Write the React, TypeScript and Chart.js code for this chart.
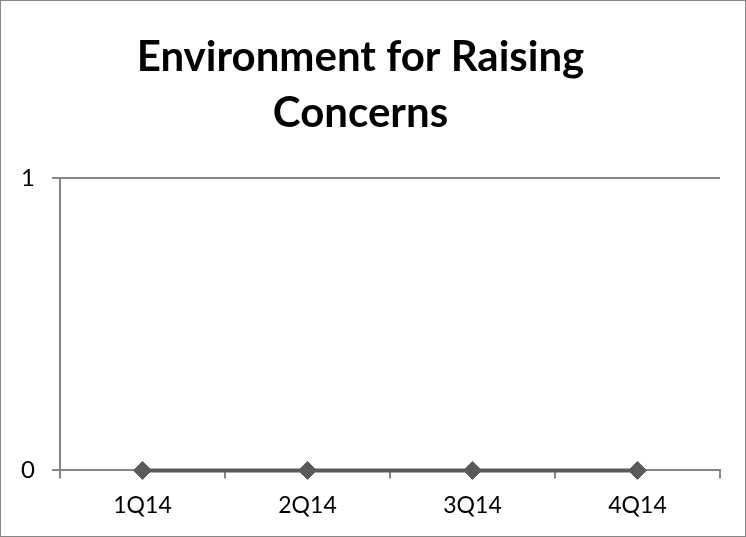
import React, { useEffect, useRef } from "react";
import { Chart, registerables } from "chart.js";

Chart.register(...registerables);

const categories = ["1Q14", "2Q14", "3Q14", "4Q14"];
const seriesValues = [0, 0, 0, 0];
const titleLines = ["Environment for Raising", "Concerns"];
const yTickValues = [0, 1];

export default function App() {
  const ref = useRef<HTMLCanvasElement | null>(null);
  useEffect(() => {
    document.body.style.margin = "0";
    const ctx = ref.current!;
    const chart = new Chart(ctx, {
      type: "line",
      data: {
        labels: categories,
        datasets: [
          {
            data: seriesValues,
            borderColor: "#5a5a5a",
            backgroundColor: "#5a5a5a",
            borderWidth: 4,
            pointStyle: "rectRot",
            pointRadius: 9,
            pointBorderWidth: 1,
            pointBackgroundColor: "#5a5a5a",
            pointBorderColor: "#5a5a5a",
            clip: false as any,
          },
        ],
      },
      options: {
        animation: false,
        responsive: false,
        devicePixelRatio: 1,
        layout: { padding: { left: 0, right: 25, top: 0, bottom: 4 } },
        plugins: {
          legend: { display: false },
          tooltip: { enabled: false },
          title: {
            display: true,
            text: titleLines,
            color: "#000000",
            font: { family: "Lato, 'Open Sans', sans-serif", size: 42, weight: "bold", lineHeight: 1.333 },
            padding: { top: 28, bottom: 37 },
          },
        },
        scales: {
          x: {
            type: "category",
            offset: true,
            border: { display: true, color: "#868686", width: 2 },
            grid: {
              offset: true,
              drawOnChartArea: false,
              drawTicks: true,
              tickLength: 8,
              color: "#868686",
              lineWidth: 2,
            },
            ticks: {
              color: "#000000",
              font: { family: "Lato, 'Open Sans', sans-serif", size: 23 },
              padding: 13,
              maxRotation: 0,
            },
          },
          y: {
            min: 0,
            max: 1,
            afterFit: (s: any) => {
              s.width = 59;
            },
            afterBuildTicks: (s: any) => {
              s.ticks = yTickValues.map((v) => ({ value: v }));
            },
            border: { display: true, color: "#868686", width: 2 },
            grid: {
              drawTicks: true,
              tickLength: 8,
              color: "#868686",
              lineWidth: 2,
            },
            ticks: {
              color: "#000000",
              font: { family: "Lato, 'Open Sans', sans-serif", size: 24 },
              padding: 17,
              stepSize: 1,
            },
          },
        },
      },
    });
    return () => chart.destroy();
  }, []);
  return (
    <div
      style={{
        width: 746,
        height: 537,
        boxSizing: "border-box",
        border: "1px solid #868686",
        background: "#ffffff",
      }}
    >
      <canvas ref={ref} width={744} height={535} style={{ display: "block" }} />
    </div>
  );
}
